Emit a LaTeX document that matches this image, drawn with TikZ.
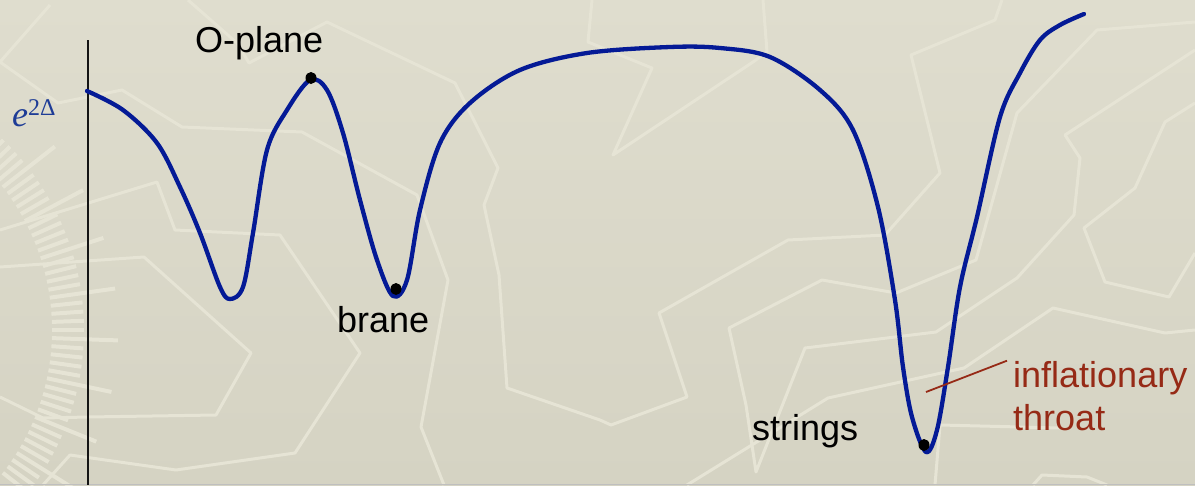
\documentclass[tikz,border=0pt]{standalone}
\usepackage{fontspec}
\setmainfont{Liberation Sans}
\newfontfamily\timesfam{Liberation Serif}
\usetikzlibrary{positioning,shapes.geometric}
\definecolor{bgT}{RGB}{223,221,206}
\definecolor{bgB}{RGB}{213,211,195}
\definecolor{decoL}{RGB}{230,228,213}
\definecolor{potL}{RGB}{4,26,150}
\definecolor{axL}{RGB}{20,20,20}
\definecolor{labB}{RGB}{30,60,150}
\definecolor{thrL}{RGB}{150,42,22}

\begin{document}
\begin{tikzpicture}[x=1pt, y=-1pt,
  lbl/.style={inner sep=0pt, anchor=base west, font=\fontsize{36}{43}\selectfont},
  dot/.style={ellipse, fill=black, inner sep=0pt, minimum width=11pt, minimum height=12pt},
  deco/.style={draw=decoL, line width=3pt, line join=round},
  hatchbar/.style={draw=decoL, line width=4pt},
  potential/.style={draw=potL, line width=4.3pt, line join=round, line cap=round},
  yaxis/.style={draw=axL, line width=2pt},
  throatline/.style={draw=thrL, line width=1.8pt},
]

% ---------- background ----------
\useasboundingbox (0,0) rectangle (1195,485);
\shade[top color=bgT, bottom color=bgB] (0,0) rectangle (1195,485);
\begin{scope}[shift={(-180,330)}]
  \foreach \a [count=\i] in {-46,-44,...,38}{
    \pgfmathsetmacro{\rout}{mod(\i,5)==0 ? 298 : 264}
    \draw[hatchbar] (\a:232) -- (\a:\rout);
  }
\end{scope}
\draw[deco] (50,5) -- (0,62) -- (58,103) -- (122,90) -- (182,127) -- (302,132) -- (417,195) -- (448,280) -- (421,427) -- (444,485);
\draw[deco] (0,230) -- (157,182) -- (175,230) -- (280,235) -- (360,353) -- (295,453) -- (176,470) -- (70,455) -- (43,485);
\draw[deco] (0,267) -- (144,257) -- (251,353) -- (216,415) -- (88,417) -- (43,418) -- (0,397);
\draw[deco] (188,0) -- (237,43) -- (249,63) -- (327,22) -- (455,83) -- (498,168) -- (484,205) -- (499,275) -- (507,388) -- (600,420) -- (611,425) -- (687,397) -- (659,313) -- (788,240) -- (885,235) -- (940,173) -- (911,55) -- (995,20) -- (1002,0);
\draw[deco] (592,0) -- (588,42) -- (652,68) -- (613,155) -- (753,62) -- (767,52) -- (763,0);
\draw[deco] (1195,22) -- (1097,30) -- (1017,113) -- (976,260) -- (896,293) -- (822,280) -- (729,328) -- (746,405) -- (756,472) -- (805,348) -- (936,332) -- (1017,278) -- (1074,215) -- (1080,158) -- (1065,135) -- (1195,50);
\draw[deco] (1195,103) -- (1165,122) -- (1135,188) -- (1084,228) -- (1105,282) -- (1169,297) -- (1195,253);
\draw[deco] (687,485) -- (828,398) -- (964,368) -- (1053,308) -- (1165,333) -- (1195,330);
\draw[deco] (935,485) -- (940,425) -- (1060,428);
\draw[deco] (1033,485) -- (1042,475) -- (1087,477) -- (1107,485);
\draw[draw=black!25, line width=1pt] (0,484.5) -- (1195,484.5);

% ---------- axis and potential ----------
\draw[yaxis] (88,40) -- (88,485);
\node[inner sep=0pt, anchor=base west, text=labB] (ylab) at (12,126)
  {\timesfam\fontsize{36}{36}\selectfont\textit{e}\raisebox{11pt}{\fontsize{24}{24}\selectfont 2Δ}};

\draw[potential] plot[smooth, tension=0.55] coordinates {
  (87,91) (123,110) (157,143) (180,187) (200,233) (220,287) (230,299) (243,287)
  (253,233) (267,150) (287,110) (310,80) (327,90) (343,133) (360,200) (377,260)
  (393,296) (407,280) (420,210) (440,143) (470,103) (520,70) (587,53) (670,47)
  (720,48) (770,57) (820,90) (853,130) (878,207) (895,300) (903,367) (912,417)
  (926,452) (937,430) (948,367) (960,287) (977,217) (1000,117) (1020,73)
  (1040,40) (1060,25) (1084,14)};

% ---------- points and labels ----------
\node[dot] (oplane) at (311,78) {};
\node[dot] (brane) at (396,289) {};
\node[dot] (strings) at (924,445) {};

\node[lbl] (oplanelab) at (195,52) {O-plane};
\node[lbl] (branelab) at (337,332) {brane};
\node[lbl] (stringslab) at (752,440) {strings};
\node[lbl, text=thrL] (infl) at (1013,387) {inflationary};
\node[lbl, text=thrL] (throat) at (1013,430) {throat};

\coordinate (throatpt) at (926,392);
\draw[throatline] (throatpt) -- ([xshift=-6pt, yshift=17pt]infl.west);

\end{tikzpicture}
\end{document}
